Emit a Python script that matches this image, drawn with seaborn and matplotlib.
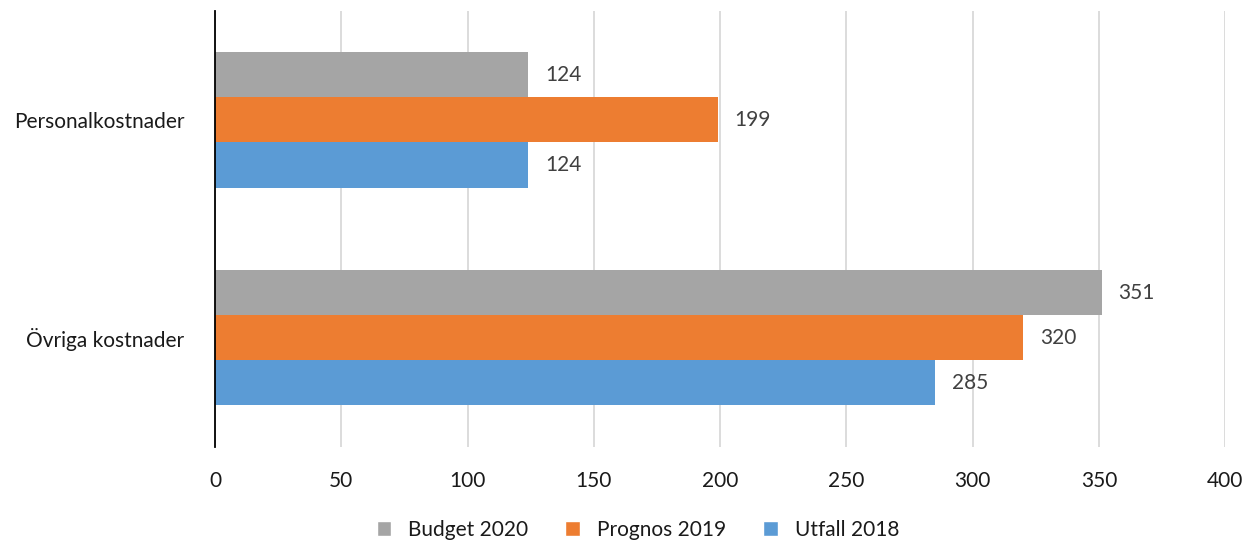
import matplotlib
matplotlib.use("Agg")
import matplotlib.pyplot as plt
import seaborn as sns
import pandas as pd
from matplotlib.patches import Patch

categories = ["Personalkostnader", "Övriga kostnader"]
series = ["Budget 2020", "Prognos 2019", "Utfall 2018"]
budget_2020 = [124, 351]
prognos_2019 = [199, 320]
utfall_2018 = [124, 285]
colors = ["#A5A5A5", "#ED7D31", "#5B9BD5"]

rows = []
for name, vals in zip(series, [budget_2020, prognos_2019, utfall_2018]):
    for cat, v in zip(categories, vals):
        rows.append({"kategori": cat, "serie": name, "varde": v})
df = pd.DataFrame(rows)

sns.set_style("white")
plt.rcParams["font.family"] = ["Lato", "DejaVu Sans"]

fig = plt.figure(figsize=(12.58, 5.47), dpi=100)
ax = fig.add_axes([0.171, 0.183, 0.803, 0.797])

sns.barplot(data=df, y="kategori", x="varde", hue="serie", order=categories,
            hue_order=series, palette=colors, orient="h", width=0.62,
            saturation=1, linewidth=0, ax=ax, legend=False)

ax.set_xlim(0, 400)
ax.set_xticks(range(0, 401, 50))
ax.xaxis.grid(True, color="#D9D9D9", linewidth=1.3)
ax.set_axisbelow(True)
ax.set_xlabel("")
ax.set_ylabel("")
for s in ["top", "right", "bottom"]:
    ax.spines[s].set_visible(False)
ax.spines["left"].set_color("black")
ax.spines["left"].set_linewidth(1.3)
ax.tick_params(axis="x", length=0, pad=17, labelsize=15, labelcolor="#1a1a1a")
ax.tick_params(axis="y", length=0, pad=22, labelsize=15, labelcolor="#1a1a1a")

for cont in ax.containers:
    ax.bar_label(cont, labels=[f"{int(v)}" for v in cont.datavalues],
                 padding=12, fontsize=15, color="#404040")

handles = [Patch(facecolor=c, label=s) for c, s in zip(colors, series)]
fig.legend(handles=handles, loc="center", bbox_to_anchor=(0.507, 0.031), ncol=3,
           frameon=False, fontsize=15, handlelength=0.7, handleheight=0.7,
           columnspacing=1.8, handletextpad=0.8, labelcolor="#1a1a1a")

fig.savefig("out.png", dpi=100)
